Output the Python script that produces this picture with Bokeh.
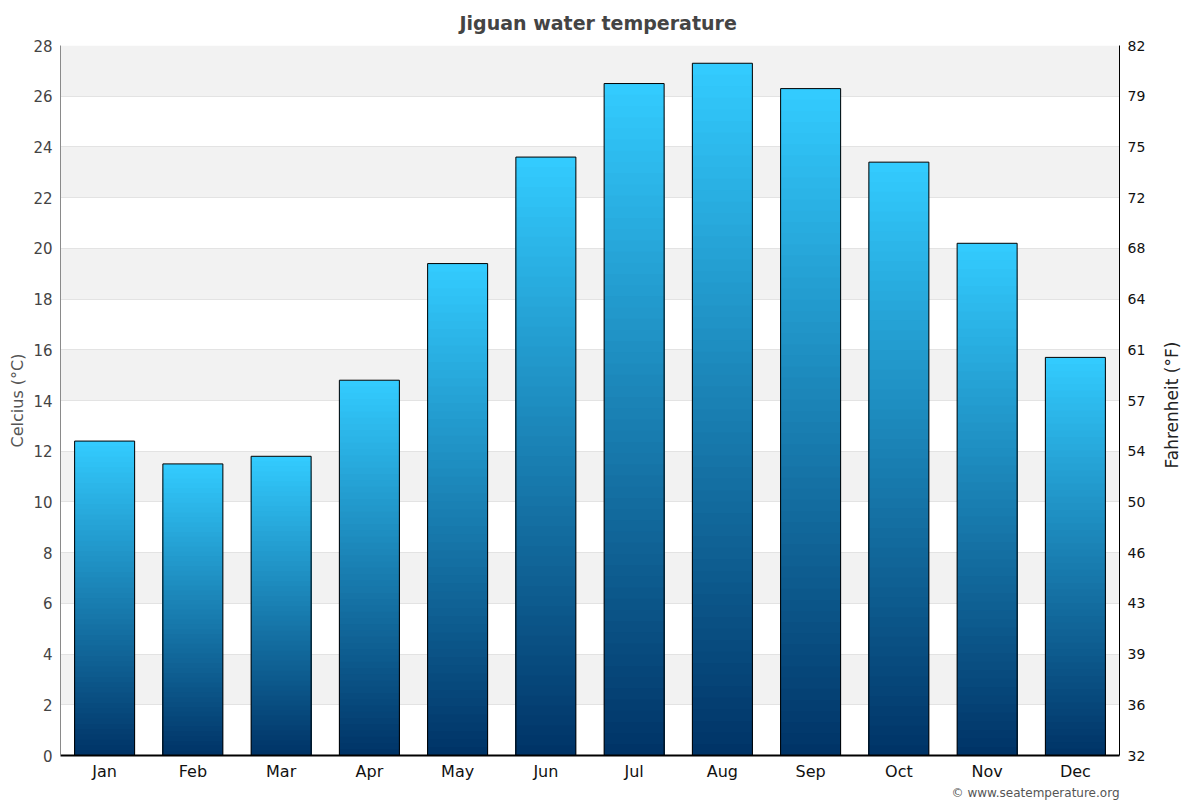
import math
from bokeh.plotting import figure
from bokeh.models import FactorRange, LinearAxis, FixedTicker, Range1d, Title
from bokeh.embed import file_html
from bokeh.resources import INLINE

# ---- data ----
months = ["Jan", "Feb", "Mar", "Apr", "May", "Jun", "Jul", "Aug", "Sep", "Oct", "Nov", "Dec"]
celsius = [12.4, 11.5, 11.8, 14.8, 19.4, 23.6, 26.5, 27.3, 26.3, 23.4, 20.2, 15.7]
celsius_ticks = [0, 2, 4, 6, 8, 10, 12, 14, 16, 18, 20, 22, 24, 26, 28]
fahrenheit_labels = ["32", "36", "39", "43", "46", "50", "54", "57", "61", "64", "68", "72", "75", "79", "82"]
title_text = "Jiguan water temperature"
credit_text = "\u00a9 www.seatemperature.org"
left_title = "Celcius (\u00b0C)"
right_title = "Fahrenheit (\u00b0F)"

FONT = "DejaVu Sans"
BOTTOM_COLOR = (0x00, 0x33, 0x66)
TOP_COLOR = (0x33, 0xCC, 0xFF)
N_STEPS = 60
BAR_WIDTH = 0.68
W, H = 1200, 800
RIGHT_TITLE_START = 11.32   # where the upward-reading right title begins (axis units)

p = figure(
    width=W, height=H,
    x_range=FactorRange(*months, range_padding=0),
    y_range=Range1d(0, 28),
    output_backend="svg", toolbar_location=None,
    min_border_left=60, min_border_right=81, min_border_top=45, min_border_bottom=45,
    background_fill_color="white", border_fill_color="white",
)
p.outline_line_color = None

# title
p.title.text = title_text
p.title.align = "left"
p.title.offset = 399
p.title.vertical_align = "top"
p.title.text_font = FONT
p.title.text_font_size = "19px"
p.title.text_font_style = "bold"
p.title.text_color = "#444444"
p.title.standoff = 20

# grid with alternating bands
ticker = FixedTicker(ticks=celsius_ticks)
p.ygrid.ticker = ticker
p.ygrid.grid_line_color = "#e3e3e3"
p.ygrid.band_fill_color = "#f2f2f2"
p.ygrid.band_fill_alpha = 1.0
p.xgrid.visible = False

# gradient bars: overlapping bars drawn from the tallest step down
def mix(t):
    r = round(BOTTOM_COLOR[0] + (TOP_COLOR[0] - BOTTOM_COLOR[0]) * t)
    g = round(BOTTOM_COLOR[1] + (TOP_COLOR[1] - BOTTOM_COLOR[1]) * t)
    b = round(BOTTOM_COLOR[2] + (TOP_COLOR[2] - BOTTOM_COLOR[2]) * t)
    return "#%02x%02x%02x" % (r, g, b)

xs, tops, cols = [], [], []
for k in range(N_STEPS - 1, -1, -1):
    frac_top = (k + 1) / N_STEPS
    col = mix((k + 0.5) / N_STEPS)
    for m, v in zip(months, celsius):
        xs.append(m)
        tops.append(v * frac_top)
        cols.append(col)
p.vbar(x=xs, top=tops, bottom=0, width=BAR_WIDTH, fill_color=cols, line_color=None)
p.vbar(x=months, top=celsius, bottom=0, width=BAR_WIDTH, fill_alpha=0,
       line_color="black", line_width=1)

def style_axis(ax, size, color, line_color):
    ax.major_label_text_font = FONT
    ax.major_label_text_font_size = size
    ax.major_label_text_color = color
    ax.major_tick_out = 0
    ax.major_tick_in = 0
    ax.minor_tick_out = 0
    ax.minor_tick_in = 0
    ax.major_label_standoff = 8
    ax.axis_line_color = line_color
    ax.axis_label_text_font = FONT
    ax.axis_label_text_font_size = "16px"
    ax.axis_label_text_font_style = "normal"

# left axis
ya = p.yaxis[0]
ya.ticker = ticker
style_axis(ya, "15px", "#444444", "#8a8a8a")
ya.axis_label = left_title
ya.axis_label_text_color = "#555555"
ya.axis_label_standoff = 3

# right axis (Fahrenheit)
ra = LinearAxis(ticker=FixedTicker(ticks=celsius_ticks),
                major_label_overrides={t: f for t, f in zip(celsius_ticks, fahrenheit_labels)})
style_axis(ra, "14px", "#111111", "black")
p.add_layout(ra, "right")

# right axis title, reading upwards (carried by an outer, line-less axis)
ta = LinearAxis(ticker=FixedTicker(ticks=[RIGHT_TITLE_START]),
                major_label_overrides={RIGHT_TITLE_START: right_title},
                major_label_orientation=math.pi / 2)
style_axis(ta, "17px", "#222222", None)
ta.major_label_standoff = 24
ta.major_tick_line_color = None
ta.minor_tick_line_color = None
p.add_layout(ta, "right")

# x axis
xa = p.xaxis[0]
style_axis(xa, "16px", "#111111", "black")
xa.axis_line_width = 2
xa.major_label_standoff = 6

# credit line below the chart, right aligned
credit = Title(text=credit_text, align="right", text_font=FONT, text_font_size="12px",
               text_font_style="normal", text_color="#555555", standoff=0)
p.add_layout(credit, "below")

open("out.html", "w").write(file_html(p, INLINE))
